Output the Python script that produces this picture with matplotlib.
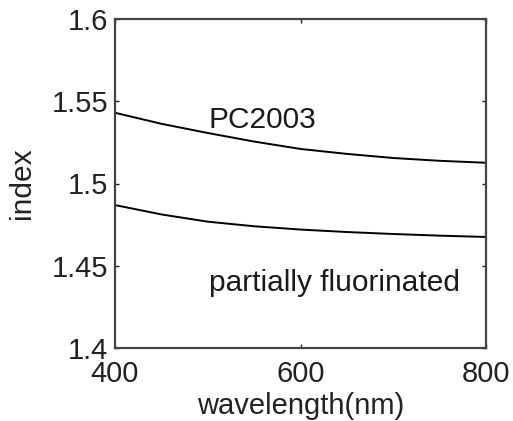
import numpy as np
import matplotlib
matplotlib.use("Agg")
import matplotlib.pyplot as plt
from matplotlib.ticker import FormatStrFormatter

plt.rcParams["font.family"] = ["Liberation Sans", "DejaVu Sans"]

wavelength = [400, 450, 500, 550, 600, 650, 700, 750, 800]
pc2003 = [1.5430, 1.5363, 1.5307, 1.5255, 1.5210, 1.5180, 1.5155, 1.5138, 1.5126]
fluorinated = [1.4869, 1.4812, 1.4768, 1.4740, 1.4720, 1.4705, 1.4693, 1.4683, 1.4675]

fig = plt.figure(figsize=(5.13, 4.21), dpi=100)
ax = fig.add_axes([115 / 513, 1 - 348 / 421, 371 / 513, 329 / 421])

ax.plot(wavelength, pc2003, color="black", lw=1.4)
ax.plot(wavelength, fluorinated, color="black", lw=1.4)

ax.text(501, 1.5337, "PC2003", fontsize=21.5, ha="left", va="baseline",
        color="#1a1a1a")
ax.text(501, 1.4347, "partially fluorinated", fontsize=21.5, ha="left",
        va="baseline", color="#1a1a1a")

ax.set_xlim(400, 800)
ax.set_ylim(1.4, 1.6)
ax.set_xticks([400, 600, 800])
ax.set_yticks([1.4, 1.45, 1.5, 1.55, 1.6])
ax.yaxis.set_major_formatter(FormatStrFormatter("%g"))
ax.tick_params(direction="in", length=3, width=1, top=True, right=True,
               labelsize=21, pad=5, colors="#222222", labelcolor="#222222")
ax.tick_params(axis="x", pad=8.5)
for s in ax.spines.values():
    s.set_linewidth(1.6)
    s.set_color("#444444")

ax.set_xlabel("wavelength(nm)", fontsize=21, labelpad=3, color="#222222")
ax.set_ylabel("index", fontsize=21.5, labelpad=11, color="#222222")

fig.savefig("out.png", dpi=100)
